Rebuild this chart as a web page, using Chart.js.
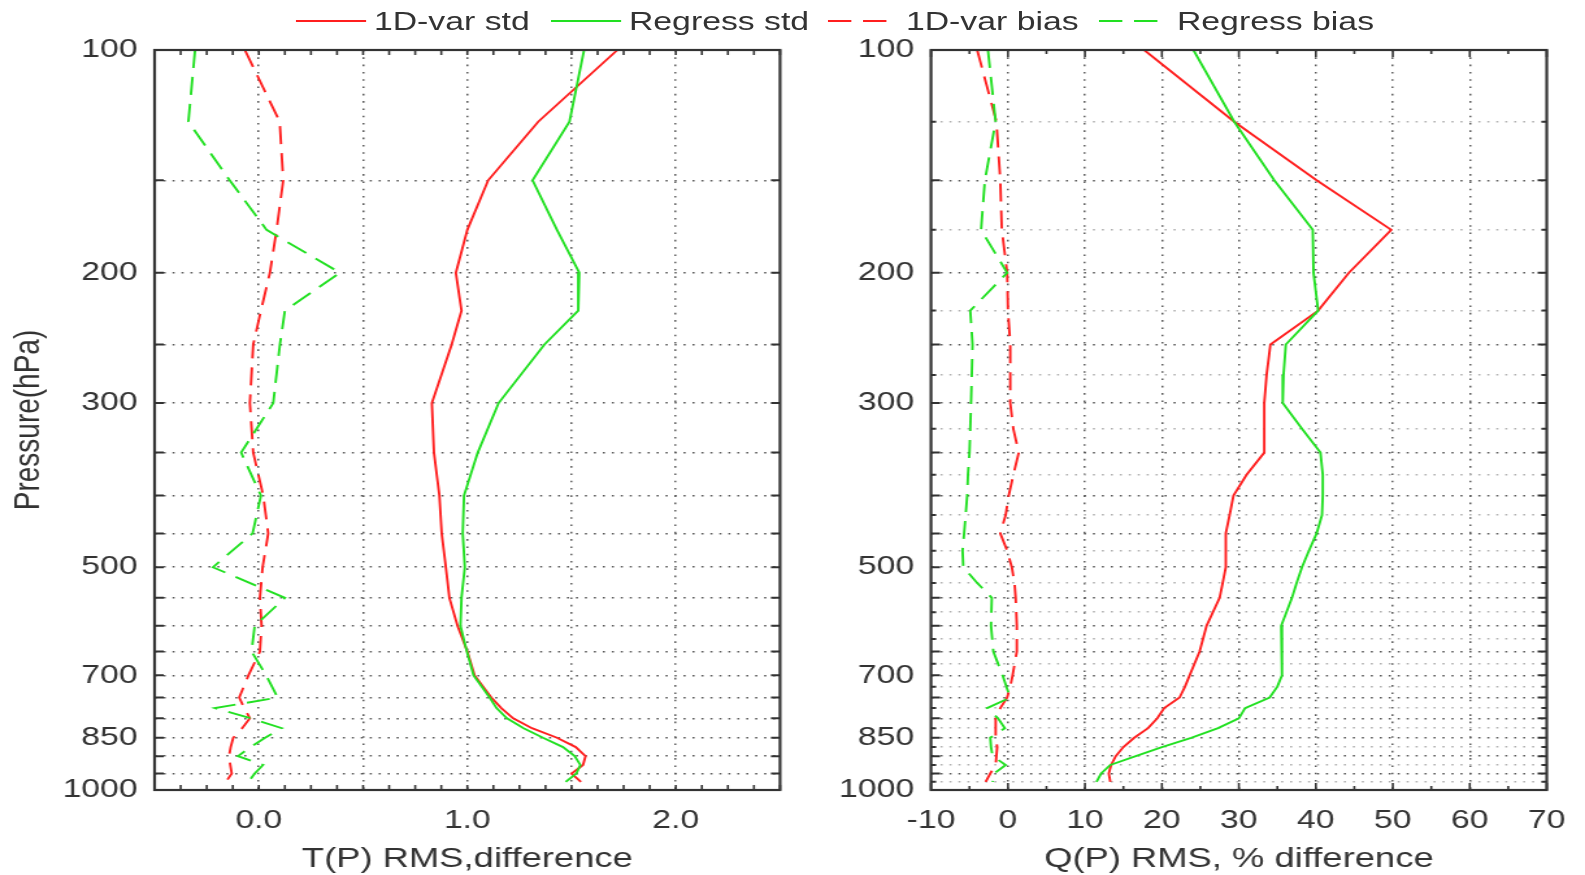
<!DOCTYPE html>
<html>
<head>
<meta charset="utf-8">
<script src="https://cdn.jsdelivr.net/npm/chart.js@4.4.1/dist/chart.umd.min.js"></script>
<style>
  html, body { margin: 0; padding: 0; background: #fff; overflow: hidden; width: 1585px; height: 875px; }
  /* the source figure is stretched sideways, so the whole drawing is widened the same way */
  #wrap { position: absolute; left: 0; top: 0; width: 1220px; height: 875px; transform-origin: 0 0; transform: scaleX(1.29918); }
  #wrap canvas { position: absolute; top: 0; }
  #legend { position: absolute; left: 0; top: 0; width: 1220px; height: 44px; font: 26px "Liberation Sans", Arial, sans-serif; color: #333; }
  #legend span { position: absolute; top: 21px; transform: translateY(-50%); line-height: 1; white-space: nowrap; }
  #legend svg { position: absolute; left: 0; top: 0; }
</style>
</head>
<body>
<div id="wrap">
  <canvas id="tChart" width="660" height="875" style="left:0px"></canvas>
  <canvas id="qChart" width="600" height="875" style="left:620px"></canvas>
  <div id="legend"></div>
</div>
<script>
// -------- data (pressure in hPa)
const T_LEVELS = [100, 125, 150, 175, 200, 225, 250, 300, 350, 400, 450, 500, 550, 600, 650, 700, 750, 775, 800, 825, 850, 875, 900, 925, 950, 975];
const T_VAR_STD = [1.72, 1.34, 1.10, 1.00, 0.945, 0.972, 0.925, 0.83, 0.84, 0.866, 0.877, 0.897, 0.914, 0.953, 1.0, 1.035, 1.115, 1.163, 1.22, 1.31, 1.43, 1.52, 1.567, 1.555, 1.50, 1.545];
const T_REG_STD = [1.56, 1.49, 1.313, 1.43, 1.537, 1.532, 1.37, 1.15, 1.05, 0.984, 0.978, 0.988, 0.972, 0.967, 0.998, 1.03, 1.107, 1.14, 1.19, 1.27, 1.363, 1.459, 1.515, 1.542, 1.523, 1.472];
const T_VAR_BIAS = [-0.067, 0.10, 0.117, 0.085, 0.053, 0.01, -0.027, -0.043, -0.027, 0.021, 0.045, 0.018, 0.005, 0.013, 0.005, -0.05, -0.094, -0.07, -0.043, -0.08, -0.123, -0.135, -0.143, -0.137, -0.13, -0.158];
const T_REG_BIAS = [-0.306, -0.338, -0.14, 0.037, 0.389, 0.125, 0.101, 0.069, -0.085, 0.01, -0.03, -0.22, 0.125, -0.02, -0.035, 0.035, 0.09, -0.21, -0.04, 0.11, 0.03, -0.04, -0.10, 0.02, -0.02, -0.05];

const Q_LEVELS = [100, 125, 150, 175, 200, 225, 250, 275, 300, 325, 350, 375, 400, 425, 450, 475, 500, 525, 550, 600, 650, 700, 725, 750, 775, 800, 825, 850, 875, 900, 925, 950, 975];
const Q_VAR_STD = [17.7, 29.4, 40.1, 49.8, 44.3, 40.3, 34.1, 33.6, 33.3, 33.3, 33.3, 31.0, 29.3, 28.8, 28.3, 28.3, 28.3, 27.9, 27.5, 25.8, 24.9, 23.6, 23.0, 22.3, 20.3, 19.4, 18.2, 16.4, 15.0, 14.0, 13.4, 13.1, 13.3];
const Q_REG_STD = [24.1, 29.4, 34.6, 39.6, 39.7, 40.3, 36.1, 35.8, 35.7, 38.2, 40.6, 40.9, 40.9, 40.8, 40.1, 39.1, 38.2, 37.5, 36.9, 35.5, 35.6, 35.6, 35.0, 34.0, 30.8, 30.0, 27.3, 23.8, 20.0, 16.6, 13.3, 12.1, 11.5];
const Q_VAR_BIAS = [-4.0, -1.5, -1.0, -0.8, -0.1, 0.0, 0.3, 0.3, 0.3, 0.7, 1.4, 0.7, 0.1, -0.3, -1.0, -0.1, 0.5, 0.85, 1.0, 1.15, 1.15, 0.6, 0.3, -0.1, -1.0, -1.6, -1.6, -1.6, -1.4, -1.5, -1.6, -2.3, -2.9];
const Q_REG_BIAS = [-2.6, -1.6, -3.0, -3.5, -0.1, -4.9, -4.6, -4.7, -4.8, -4.9, -5.0, -5.2, -5.3, -5.5, -5.7, -5.9, -5.8, -4.0, -2.1, -2.2, -1.9, -0.7, -0.2, 0.3, -2.7, -1.3, -0.4, -2.3, -2.2, -2.0, -0.3, -1.8, -2.0];

const T_TICK_LABELS = [0, 1, 2];
const Q_TICK_LABELS = [-10, 0, 10, 20, 30, 40, 50, 60, 70];
const P_TICK_LABELS = [100, 200, 300, 500, 700, 850, 1000];
const SERIES_NAMES = ["1D-var std", "Regress std", "1D-var bias", "Regress bias"];

// -------- style
const RED = "#ff1f1f";
const GREEN = "#22e022";
const AXIS = "#333";
const GRID = "#5a5a5a";
const GRID_MINOR = "#b0b0b0";
const DASH = [18, 9];
const FONT = '"Liberation Sans", Arial, sans-serif';

Chart.defaults.font.family = FONT;
Chart.defaults.color = AXIS;

// tick positions (minor ticks included)
const tTicks = [];
for (let i = 0; i <= 24; i++) tTicks.push(-0.5 + i * 0.125);
const qTicks = [];
for (let i = 0; i <= 16; i++) qTicks.push(-10 + i * 5);
const pTicksT = [];
for (let p = 100; p <= 1000; p += 50) pTicksT.push(p);
const pTicksQ = [];
for (let p = 100; p <= 1000; p += 25) pTicksQ.push(p);

function series(label, levels, values, color, dashed, order) {
  return {
    label,
    data: values.map((v, i) => ({ x: v, y: levels[i] })),
    borderColor: color,
    backgroundColor: color,
    borderWidth: 1.9,
    borderDash: dashed ? DASH : [],
    pointRadius: 0,
    showLine: true,
    fill: false,
    tension: 0,
    order,
  };
}

// box round the plot + inward tick marks on all four sides
function frame(xLen, yLen) {
  return {
    id: "frame",
    afterDatasetsDraw(chart) {
      const { ctx, chartArea: a } = chart;
      const x = chart.scales.x, y = chart.scales.y;
      ctx.save();
      ctx.strokeStyle = AXIS;
      ctx.lineWidth = 1.6;
      ctx.beginPath();
      x.ticks.forEach((t) => {
        const px = x.getPixelForValue(t.value), n = xLen(t.value);
        ctx.moveTo(px, a.bottom); ctx.lineTo(px, a.bottom - n);
        ctx.moveTo(px, a.top); ctx.lineTo(px, a.top + n);
      });
      ctx.stroke();
      ctx.lineWidth = 2;
      ctx.beginPath();
      y.ticks.forEach((t) => {
        const py = y.getPixelForValue(t.value), n = yLen(t.value);
        ctx.moveTo(a.left, py); ctx.lineTo(a.left + n, py);
        ctx.moveTo(a.right, py); ctx.lineTo(a.right - n, py);
      });
      ctx.stroke();
      ctx.lineWidth = 2.2;
      ctx.strokeRect(a.left, a.top, a.right - a.left, a.bottom - a.top);
      ctx.restore();
    },
  };
}

function pressureAxis(ticks, width, colorFn, withTitle) {
  return {
    type: "logarithmic",
    reverse: true,
    min: 100,
    max: 1000,
    afterBuildTicks: (s) => { s.ticks = ticks.map((v) => ({ value: v })); },
    afterFit: (s) => { s.width = width; },
    ticks: {
      autoSkip: false,
      padding: 13,
      font: { size: 26 },
      color: AXIS,
      callback: (v) => (P_TICK_LABELS.includes(v) ? String(v) : ""),
    },
    grid: { color: colorFn, lineWidth: 1.5, drawTicks: false },
    border: { display: false, dash: [1.6, 5.3] },
    title: {
      display: withTitle,
      text: "Pressure(hPa)",
      font: { size: 28 },
      color: AXIS,
      padding: { top: 5, bottom: 0 },
    },
  };
}

function valueAxis(ticks, min, max, colorFn, fmt, title) {
  return {
    type: "linear",
    min,
    max,
    afterBuildTicks: (s) => { s.ticks = ticks.map((v) => ({ value: v })); },
    afterFit: (s) => { s.height = 85; },
    ticks: {
      autoSkip: false,
      maxRotation: 0,
      padding: 15,
      font: { size: 26 },
      color: AXIS,
      callback: fmt,
    },
    grid: { color: colorFn, lineWidth: 1.5, drawTicks: false },
    border: { display: false, dash: [1.6, 5.7] },
    title: {
      display: true,
      text: title,
      font: { size: 28, lineHeight: 1.1 },
      color: AXIS,
      padding: { top: 0, bottom: 0 },
    },
  };
}

const baseOpts = {
  responsive: false,
  animation: false,
  events: [],
  plugins: { legend: { display: false }, tooltip: { enabled: false } },
};

// -------- T(P) panel
new Chart(document.getElementById("tChart"), {
  type: "scatter",
  data: {
    datasets: [
      series(SERIES_NAMES[0], T_LEVELS, T_VAR_STD, RED, false, 4),
      series(SERIES_NAMES[1], T_LEVELS, T_REG_STD, GREEN, false, 3),
      series(SERIES_NAMES[2], T_LEVELS, T_VAR_BIAS, RED, true, 2),
      series(SERIES_NAMES[3], T_LEVELS, T_REG_BIAS, GREEN, true, 1),
    ],
  },
  options: {
    ...baseOpts,
    layout: { padding: { top: 50, right: 59.6, bottom: 0, left: 0 } },
    scales: {
      x: valueAxis(
        tTicks, -0.5, 2.5,
        (c) => {
          const v = c.tick.value;
          return Math.abs(v * 2 - Math.round(v * 2)) < 1e-6 && v > -0.5 && v < 2.5 ? GRID : "transparent";
        },
        (v) => (T_TICK_LABELS.includes(v) ? v.toFixed(1) : ""),
        "T(P) RMS,difference"
      ),
      y: pressureAxis(pTicksT, 119, () => GRID, true),
    },
  },
  plugins: [frame(() => 5, () => 7)],
});

// -------- Q(P) panel
new Chart(document.getElementById("qChart"), {
  type: "scatter",
  data: {
    datasets: [
      series(SERIES_NAMES[0], Q_LEVELS, Q_VAR_STD, RED, false, 4),
      series(SERIES_NAMES[1], Q_LEVELS, Q_REG_STD, GREEN, false, 3),
      series(SERIES_NAMES[2], Q_LEVELS, Q_VAR_BIAS, RED, true, 2),
      series(SERIES_NAMES[3], Q_LEVELS, Q_REG_BIAS, GREEN, true, 1),
    ],
  },
  options: {
    ...baseOpts,
    layout: { padding: { top: 50, right: 22.3, bottom: 0, left: 0 } },
    scales: {
      x: valueAxis(
        qTicks, -10, 70,
        (c) => {
          const v = c.tick.value;
          return v % 10 === 0 && v > -10 && v < 70 ? GRID : "transparent";
        },
        (v) => (Q_TICK_LABELS.includes(v) ? String(v) : ""),
        "Q(P) RMS, % difference"
      ),
      y: pressureAxis(pTicksQ, 96.6, (c) => (c.tick.value % 50 === 0 ? GRID : GRID_MINOR), false),
    },
  },
  plugins: [frame((v) => (v % 10 === 0 ? 7 : 4), (v) => (v % 50 === 0 ? 7 : 4))],
});

// -------- shared legend across the top
const LEGEND_X = [227.8, 424.1, 637.3, 845.9];
const legend = document.getElementById("legend");
const svgNS = "http://www.w3.org/2000/svg";
const svg = document.createElementNS(svgNS, "svg");
svg.setAttribute("width", "1220");
svg.setAttribute("height", "44");
legend.appendChild(svg);
SERIES_NAMES.forEach((name, i) => {
  const line = document.createElementNS(svgNS, "line");
  line.setAttribute("x1", LEGEND_X[i]);
  line.setAttribute("x2", LEGEND_X[i] + 54);
  line.setAttribute("y1", 21);
  line.setAttribute("y2", 21);
  line.setAttribute("stroke", i % 2 === 0 ? RED : GREEN);
  line.setAttribute("stroke-width", 1.9);
  if (i >= 2) line.setAttribute("stroke-dasharray", DASH.join(" "));
  svg.appendChild(line);
  const span = document.createElement("span");
  span.textContent = name;
  span.style.left = LEGEND_X[i] + 60 + "px";
  legend.appendChild(span);
});
</script>
</body>
</html>
